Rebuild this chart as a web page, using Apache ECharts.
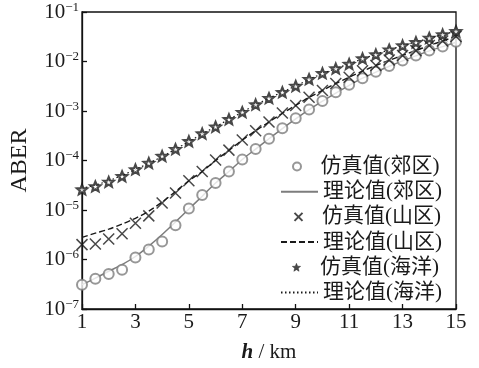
<!DOCTYPE html>
<html><head><meta charset="utf-8">
<script src="https://cdn.jsdelivr.net/npm/echarts@6/dist/echarts.min.js"></script>
<style>html,body{margin:0;padding:0;background:#fff}#c{width:479px;height:368px}</style>
</head><body><div id="c"></div>
<script>
const heights = [1,1.5,2,2.5,3,3.5,4,4.5,5,5.5,6,6.5,7,7.5,8,8.5,9,9.5,10,10.5,11,11.5,12,12.5,13,13.5,14,14.5,15];
const xTicks = [1,3,5,7,9,11,13,15];
const yTickExps = [-7,-6,-5,-4,-3,-2,-1];
const names = ['仿真值(郊区)','理论值(郊区)','仿真值(山区)','理论值(山区)','仿真值(海洋)','理论值(海洋)'];
const suburbSim = [3.1e-7,4.1e-7,5.1e-7,6.2e-7,1.1e-6,1.6e-6,2.3e-6,4.9e-6,1.07e-5,2.0e-5,3.5e-5,6.0e-5,1.05e-4,1.7e-4,2.75e-4,4.5e-4,7.1e-4,1.07e-3,1.6e-3,2.4e-3,3.4e-3,4.6e-3,6.2e-3,8.1e-3,1.05e-2,1.32e-2,1.66e-2,2.0e-2,2.5e-2];
const suburbTheory = [3.1e-7,4.2e-7,5.8e-7,7.9e-7,1.15e-6,1.86e-6,3.2e-6,5.75e-6,1.05e-5,1.9e-5,3.5e-5,6.0e-5,1.05e-4,1.7e-4,2.75e-4,4.4e-4,6.9e-4,1.06e-3,1.58e-3,2.3e-3,3.3e-3,4.6e-3,6.1e-3,8.0e-3,1.03e-2,1.3e-2,1.64e-2,2.0e-2,2.45e-2];
const mountainSim = [2.0e-6,2.05e-6,2.6e-6,3.3e-6,5.4e-6,7.6e-6,1.38e-5,2.2e-5,3.9e-5,6.0e-5,1.02e-4,1.62e-4,2.6e-4,4.0e-4,6.0e-4,9.1e-4,1.29e-3,1.9e-3,2.6e-3,3.6e-3,4.8e-3,6.5e-3,8.3e-3,1.07e-2,1.32e-2,1.66e-2,2.1e-2,2.6e-2,3.2e-2];
const mountainTheory = [2.8e-6,3.4e-6,4.1e-6,5.2e-6,6.8e-6,9.5e-6,1.45e-5,2.35e-5,3.9e-5,6.0e-5,1.0e-4,1.6e-4,2.6e-4,4.0e-4,6.0e-4,9.0e-4,1.3e-3,1.88e-3,2.6e-3,3.6e-3,4.8e-3,6.4e-3,8.3e-3,1.06e-2,1.33e-2,1.67e-2,2.1e-2,2.6e-2,3.2e-2];
const oceanSim = [2.6e-5,3.0e-5,3.7e-5,4.8e-5,6.6e-5,8.9e-5,1.23e-4,1.7e-4,2.45e-4,3.5e-4,4.8e-4,6.8e-4,9.5e-4,1.35e-3,1.82e-3,2.4e-3,3.2e-3,4.4e-3,5.8e-3,7.2e-3,8.9e-3,1.15e-2,1.38e-2,1.74e-2,2.1e-2,2.45e-2,3.0e-2,3.5e-2,4.1e-2];
const oceanTheory = [2.75e-5,3.2e-5,3.9e-5,5.0e-5,6.6e-5,8.8e-5,1.2e-4,1.7e-4,2.4e-4,3.45e-4,4.8e-4,6.8e-4,9.5e-4,1.33e-3,1.82e-3,2.42e-3,3.2e-3,4.35e-3,5.7e-3,7.2e-3,9.0e-3,1.13e-2,1.4e-2,1.72e-2,2.08e-2,2.48e-2,2.98e-2,3.5e-2,4.1e-2];

function pairs(ys){ return heights.map((h,i)=>[h, ys[i]]); }

// star symbol path
let sp = 'path://';
for (let k=0;k<10;k++){
  const r = k%2===0 ? 10 : 4.4;
  const a = -Math.PI/2 + k*Math.PI/5;
  sp += (k===0?'M':'L') + (10 + r*Math.cos(a)).toFixed(2) + ' ' + (10 + r*Math.sin(a)).toFixed(2) + ' ';
}
sp += 'Z';
const crossPath = 'path://M0 0L10 10M10 0L0 10';

const serif = "'Liberation Serif','Times New Roman',serif";
const legendFont = "'Liberation Serif','Noto Sans CJK SC',serif";
const ink = '#1a1a1a';
const gray = '#7d7d7d';

const rowTop = 168, rowGap = 25.2;
const legends = names.map((n,i)=>{
  const isSim = (i%2===0);
  const item = { name: n };
  if (isSim && i === 4) item.itemStyle = { color: ink, borderColor: ink, borderWidth: 0.5 };
  if (!isSim) item.itemStyle = { opacity: 0 };
  return {
    show: true, selectedMode: false, orient: 'vertical',
    left: isSim ? 292 : 280, top: rowTop + i*rowGap - 12, padding: 0,
    itemWidth: 37, itemHeight: isSim ? 8 : 10, itemGap: 0,
    data: [item],
    textStyle: { fontFamily: legendFont, fontSize: 21, color: ink, padding: [2,0,0,0] }
  };
});

const chart = echarts.init(document.getElementById('c'), null, {renderer: 'canvas'});
chart.setOption({
  animation: false,
  backgroundColor: '#fff',
  grid: { left: 77, right: 23, top: 12, bottom: 52, show: true, borderColor: '#111', borderWidth: 1.3, backgroundColor: 'transparent' },
  legend: legends,
  xAxis: {
    type: 'value', min: 1, max: 15, interval: 2,
    axisLine: { show: true, lineStyle: { color: '#111', width: 1.3 } },
    axisTick: { show: true, inside: true, length: 5, lineStyle: { color: '#111', width: 1.3 } },
    splitLine: { show: false },
    axisLabel: { fontFamily: serif, fontSize: 21, color: ink, margin: 3,
      formatter: v => (xTicks.indexOf(v) >= 0 ? String(v) : '') },
    name: '{i|h} / km', nameLocation: 'middle', nameGap: 33,
    nameTextStyle: { fontFamily: serif, fontSize: 21, color: ink,
      rich: { i: { fontFamily: serif, fontSize: 21, fontStyle: 'italic', fontWeight: 'bold', color: ink } } }
  },
  yAxis: {
    type: 'log', logBase: 10, min: 1e-7, max: 1e-1, interval: 1,
    axisLine: { show: true, lineStyle: { color: '#111', width: 1.3 } },
    axisTick: { show: true, inside: true, length: 5, lineStyle: { color: '#111', width: 1.3 } },
    splitLine: { show: false }, minorTick: { show: false },
    axisLabel: { margin: 3, color: ink,
      formatter: v => { const e = Math.round(Math.log10(v)); if (yTickExps.indexOf(e) < 0) return ''; return '{a|10}{b|\u2212' + (-e) + '}'; },
      rich: {
        a: { fontFamily: serif, fontSize: 21, color: ink, lineHeight: 22 },
        b: { fontFamily: serif, fontSize: 13, color: ink, lineHeight: 13, verticalAlign: 'top' }
      } },
    name: 'ABER', nameLocation: 'middle', nameRotate: 90, nameGap: 50,
    nameTextStyle: { fontFamily: serif, fontSize: 24, color: ink }
  },
  series: [
    { name: names[1], type: 'line', data: pairs(suburbTheory), smooth: 0.3, symbol: 'none',
      lineStyle: { color: gray, width: 1.5, type: 'solid' }, itemStyle: { color: gray }, z: 2 },
    { name: names[3], type: 'line', data: pairs(mountainTheory), smooth: 0.3, symbol: 'none',
      lineStyle: { color: ink, width: 1.4, type: [6,3] }, itemStyle: { color: ink }, z: 2 },
    { name: names[5], type: 'line', data: pairs(oceanTheory), smooth: 0.3, symbol: 'none',
      lineStyle: { color: ink, width: 1.2, type: [1.5,2.5] }, itemStyle: { color: ink }, z: 2 },
    { name: names[0], type: 'scatter', data: pairs(suburbSim), symbol: 'emptyCircle', symbolSize: 10,
      itemStyle: { color: gray, borderColor: gray, borderWidth: 1.6 }, z: 3 },
    { name: names[2], type: 'scatter', data: pairs(mountainSim), symbol: crossPath, symbolSize: 11, symbolKeepAspect: true,
      itemStyle: { color: 'none', borderColor: ink, borderWidth: 1.5 }, z: 3 },
    { name: names[4], type: 'scatter', data: pairs(oceanSim), symbol: sp, symbolSize: 10, symbolKeepAspect: true,
      itemStyle: { color: '#fff', borderColor: ink, borderWidth: 2.2 }, z: 4 }
  ]
});
</script></body></html>
